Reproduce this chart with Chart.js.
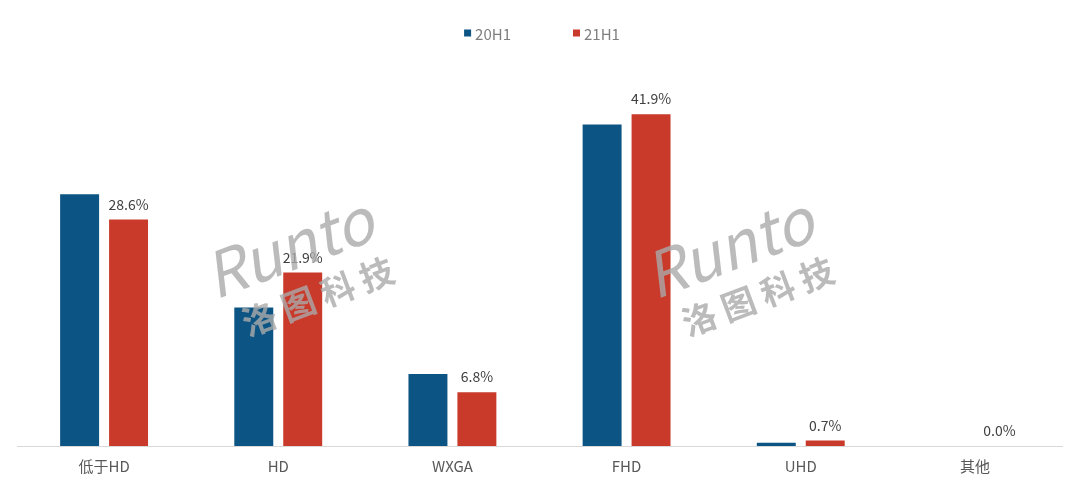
<!DOCTYPE html>
<html>
<head>
<meta charset="utf-8">
<script src="https://cdn.jsdelivr.net/npm/chart.js@4.4.0/dist/chart.umd.min.js"></script>
<style>
  html, body { margin: 0; padding: 0; background: #ffffff; }
  #wrap { width: 1080px; height: 489px; position: relative; }
</style>
</head>
<body>
<div id="wrap"><canvas id="c" width="1080" height="489"></canvas></div>
<script>
const categories = ['低于HD', 'HD', 'WXGA', 'FHD', 'UHD', '其他'];
const seriesNames = ['20H1', '21H1'];
const values20H1 = [31.8, 17.5, 9.1, 40.6, 0.4, 0.0];
const values21H1 = [28.6, 21.9, 6.8, 41.9, 0.7, 0.0];

const BLUE = '#0c5484';
const RED = '#c93a2a';
const FONT = "'Noto Sans CJK SC', 'DejaVu Sans', sans-serif";

const labelPlugin = {
  id: 'valueLabels',
  afterDatasetsDraw(chart) {
    const ctx = chart.ctx;
    const meta = chart.getDatasetMeta(1);
    ctx.save();
    ctx.font = '14px ' + FONT;
    ctx.fillStyle = '#404040';
    ctx.textAlign = 'center';
    ctx.textBaseline = 'bottom';
    meta.data.forEach((bar, i) => {
      const v = chart.data.datasets[1].data[i];
      ctx.fillText(v.toFixed(1) + '%', bar.x, bar.y - 8);
    });
    ctx.restore();
  }
};

const legendPlugin = {
  id: 'customLegend',
  afterDraw(chart) {
    const ctx = chart.ctx;
    const ds = chart.data.datasets;
    ctx.save();
    ctx.font = '15px ' + FONT;
    ctx.textBaseline = 'middle';
    ctx.textAlign = 'left';
    const box = 7, gapText = 4, gapItem = 62, cy = 33;
    const widths = ds.map(d => box + gapText + ctx.measureText(d.label).width);
    const total = widths.reduce((a, b) => a + b, 0) + gapItem * (ds.length - 1);
    let x = 542 - total / 2;
    ds.forEach((d, i) => {
      ctx.fillStyle = d.backgroundColor;
      ctx.fillRect(x, cy - box / 2, box, box);
      ctx.fillStyle = '#7f7f7f';
      ctx.fillText(d.label, x + box + gapText, cy + 1);
      x += widths[i] + gapItem;
    });
    ctx.restore();
  }
};

const watermarkPlugin = {
  id: 'watermark',
  afterDraw(chart) {
    const ctx = chart.ctx;
    const marks = [[215, 300], [655, 300]];
    ctx.save();
    ctx.fillStyle = 'rgba(170,170,170,0.8)';
    marks.forEach(([x, y]) => {
      ctx.save();
      ctx.translate(x, y);
      ctx.rotate(-0.36);
      ctx.font = 'italic 62px ' + FONT;
      ctx.textBaseline = 'alphabetic';
      ctx.textAlign = 'left';
      ctx.fillText('Runto', 0, 0);
      ctx.font = 'bold 34px ' + FONT;
      ctx.fillText('洛 图 科 技', 18, 46);
      ctx.restore();
    });
    ctx.restore();
  }
};

new Chart(document.getElementById('c'), {
  type: 'bar',
  data: {
    labels: categories,
    datasets: [
      { label: seriesNames[0], data: values20H1, backgroundColor: BLUE, categoryPercentage: 0.562, barPercentage: 0.796 },
      { label: seriesNames[1], data: values21H1, backgroundColor: RED, categoryPercentage: 0.562, barPercentage: 0.796 }
    ]
  },
  options: {
    responsive: false,
    animation: false,
    layout: { padding: { left: 17, right: 18, top: 50, bottom: 3 } },
    plugins: {
      legend: { display: false },
      tooltip: { enabled: false }
    },
    scales: {
      x: {
        grid: { display: false, drawTicks: false },
        border: { display: true, color: '#d9d9d9', width: 1 },
        ticks: { color: '#595959', font: { size: 15, family: FONT }, padding: 11 }
      },
      y: {
        display: false,
        min: 0,
        max: 50
      }
    }
  },
  plugins: [labelPlugin, legendPlugin, watermarkPlugin]
});
</script>
</body>
</html>
